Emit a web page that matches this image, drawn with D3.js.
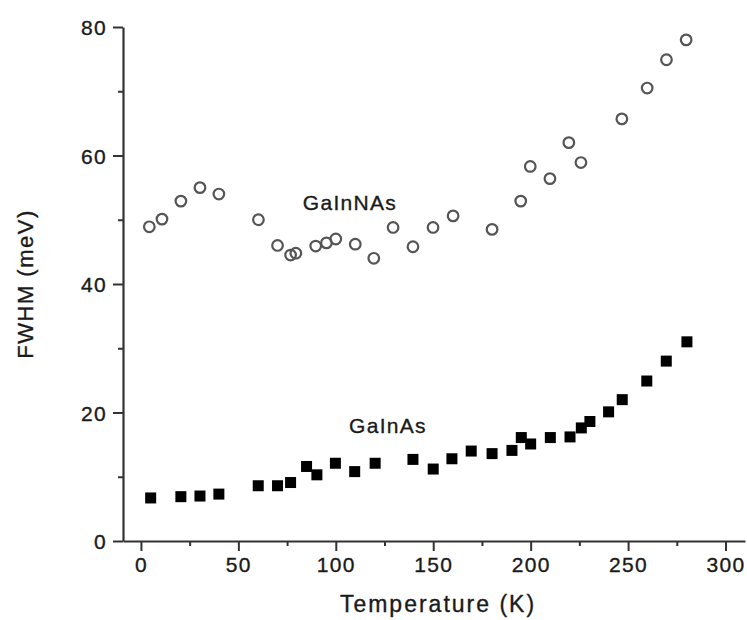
<!DOCTYPE html>
<html lang="en">
<head>
  <meta charset="UTF-8">
  <title>FWHM vs Temperature</title>
  <script src="https://d3js.org/d3.v7.min.js"></script>
  <style>
    body { margin: 0; background: #fff; }
    text { font-family: Arial, "Liberation Sans", sans-serif; fill: #1a1a1a; stroke: #1a1a1a; stroke-width: 0.35px; }
  </style>
</head>
<body>
<div class="main"></div>
<script>
  // GaInNAs (open circles)
  var nasTemp = [4.3, 10.8, 20.5, 30.3, 40, 60.3, 70.1, 76.8, 79.5, 89.7, 95.2, 100, 110, 119.5, 129.4,
                 139.6, 149.9, 160.2, 180.2, 194.9, 199.8, 209.9, 219.6, 225.8, 246.8, 259.8, 269.7, 279.8];
  var nasFwhm = [48.9, 50.1, 52.9, 55.0, 54.0, 50.0, 46.0, 44.5, 44.8, 45.9, 46.4, 47.0, 46.2, 44.0, 48.8,
                 45.8, 48.8, 50.6, 48.5, 52.9, 58.3, 56.4, 62.0, 58.9, 65.7, 70.5, 74.9, 78.0];

  // GaInAs (filled squares)
  var asTemp = [5, 20.5, 30.3, 40, 60.2, 70.1, 76.8, 85, 90.3, 99.8, 109.7, 120.2, 139.6, 150, 159.6,
                169.5, 180.2, 190.4, 195.2, 200, 210.1, 220.2, 226, 230.4, 240, 247, 259.6, 269.6, 280.2];
  var asFwhm = [6.7, 6.9, 7.0, 7.3, 8.6, 8.6, 9.1, 11.6, 10.3, 12.1, 10.8, 12.1, 12.7, 11.2, 12.8,
                14.0, 13.6, 14.1, 16.1, 15.1, 16.1, 16.2, 17.6, 18.6, 20.1, 22.0, 24.9, 28.0, 31.0];

  var xTicks = [0, 50, 100, 150, 200, 250, 300];
  var xMinor = [25, 75, 125, 175, 225, 275];
  var yTicks = [0, 20, 40, 60, 80];
  var yMinor = [10, 30, 50, 70];

  var width = 747, height = 620;
  var svg = d3.select(".main").append("svg").attr("width", width).attr("height", height);

  var x = d3.scaleLinear().domain([-9.2, 310]).range([123, 745]);
  var y = d3.scaleLinear().domain([0, 80]).range([541, 27]);

  // x axis
  svg.append("g").attr("transform", "translate(0," + y(0) + ")")
    .call(d3.axisBottom(x).tickValues(xTicks).tickSize(10).tickPadding(6).tickSizeOuter(0));
  svg.append("g").attr("transform", "translate(0," + y(0) + ")")
    .call(d3.axisBottom(x).tickValues(xMinor).tickSize(5).tickFormat("").tickSizeOuter(0))
    .select(".domain").remove();

  // y axis
  var yAxis = svg.append("g").attr("transform", "translate(" + x(-9.2) + ",0)")
    .call(d3.axisLeft(y).tickValues(yTicks).tickSize(10).tickPadding(6).tickSizeOuter(0));
  svg.append("g").attr("transform", "translate(" + x(-9.2) + ",0)")
    .call(d3.axisLeft(y).tickValues(yMinor).tickSize(5).tickFormat("").tickSizeOuter(0))
    .select(".domain").remove();

  svg.selectAll(".domain").style("stroke", "#333").style("stroke-width", 2.2);
  svg.selectAll(".tick line").style("stroke", "#333").style("stroke-width", 2);
  svg.selectAll(".tick text").style("font-size", "21px").style("letter-spacing", "1.3px")
    .style("font-family", "Arial, 'Liberation Sans', sans-serif").style("fill", "#1a1a1a");
  yAxis.selectAll(".tick text").attr("dy", "0.36em");

  // axis titles
  svg.append("text").attr("x", 438).attr("y", 612).attr("text-anchor", "middle")
    .style("font-size", "23px").style("letter-spacing", "2px").text("Temperature (K)");
  svg.append("text").attr("transform", "translate(33,284) rotate(-90)").attr("text-anchor", "middle")
    .style("font-size", "22px").style("letter-spacing", "1.5px").text("FWHM (meV)");

  // GaInNAs points
  svg.selectAll(".nas").data(nasTemp).enter().append("circle")
    .attr("cx", function(d) { return x(d); })
    .attr("cy", function(d, i) { return y(nasFwhm[i]); })
    .attr("r", 5.3).style("fill", "none").style("stroke", "#555").style("stroke-width", 2.2);

  // GaInAs points
  svg.selectAll(".as").data(asTemp).enter().append("rect")
    .attr("x", function(d) { return x(d) - 5.5; })
    .attr("y", function(d, i) { return y(asFwhm[i]) - 5.5; })
    .attr("width", 11).attr("height", 11).style("fill", "#000");

  // labels
  svg.append("text").attr("x", 350).attr("y", 210).attr("text-anchor", "middle")
    .style("font-size", "21px").style("letter-spacing", "1.3px").text("GaInNAs");
  svg.append("text").attr("x", 388).attr("y", 433).attr("text-anchor", "middle")
    .style("font-size", "21px").style("letter-spacing", "1.3px").text("GaInAs");
</script>
</body>
</html>
